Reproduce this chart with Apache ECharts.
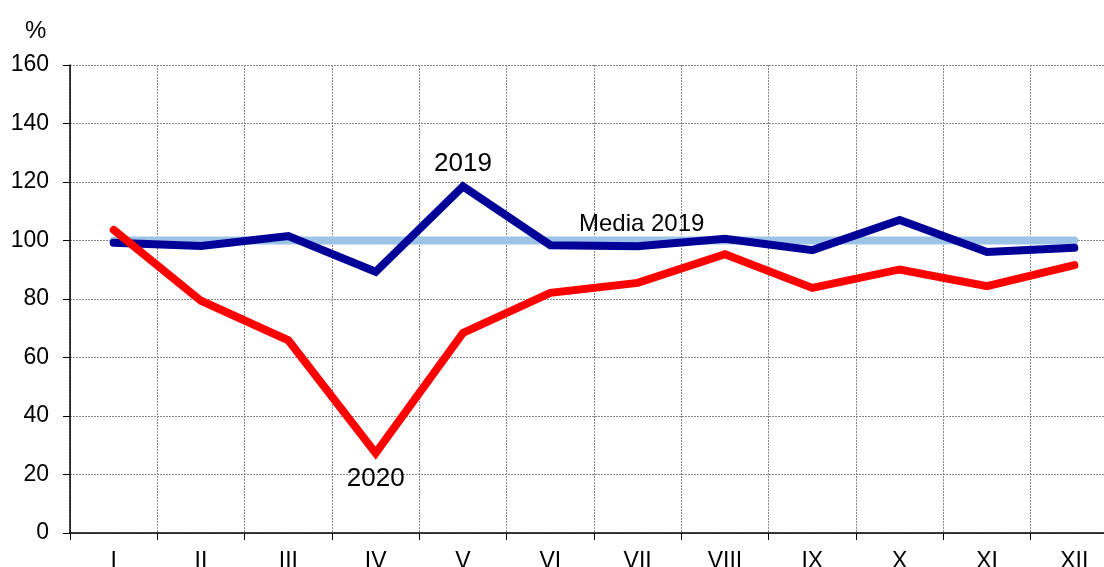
<!DOCTYPE html>
<html>
<head>
<meta charset="utf-8">
<script src="https://cdn.jsdelivr.net/npm/echarts@6/dist/echarts.min.js"></script>
<style>
  html, body { margin: 0; padding: 0; background: #fff; }
  #chart { width: 1104px; height: 567px; }
</style>
</head>
<body>
<div id="chart"></div>
<script>
// months, roman numerals
const months = ['I', 'II', 'III', 'IV', 'V', 'VI', 'VII', 'VIII', 'IX', 'X', 'XI', 'XII']
const values2019 = [99.2, 98.1, 101.5, 89.3, 118.5, 98.4, 98.0, 100.6, 96.7, 107.0, 96.1, 97.5]
const values2020 = [103.6, 79.4, 65.9, 27.3, 68.4, 82.1, 85.5, 95.3, 83.8, 90.1, 84.4, 91.6]
const media2019 = [100, 100, 100, 100, 100, 100, 100, 100, 100, 100, 100, 100]
const yTicks = [0, 20, 40, 60, 80, 100, 120, 140, 160]

const font = '"Liberation Sans", Arial, sans-serif'

// put a text label on one point only
function withLabel(values, idx, label) {
  return values.map((v, i) => i === idx ? { value: v, label: label } : v)
}

const chart = echarts.init(document.getElementById('chart'), null, { renderer: 'canvas' })

chart.setOption({
  animation: false,
  backgroundColor: '#fff',
  title: {
    text: '%',
    left: 20,
    top: 14,
    textStyle: { fontFamily: font, fontSize: 24, fontWeight: 'normal', color: '#000' }
  },
  grid: {
    left: 70,
    width: 1048,
    top: 65,
    bottom: 34,
    containLabel: false,
    outerBoundsMode: 'none'
  },
  xAxis: {
    type: 'category',
    data: months,
    boundaryGap: true,
    axisLine: { lineStyle: { color: '#000', width: 1.5 } },
    axisTick: { show: true, interval: 0, length: 7, lineStyle: { color: '#000' } },
    axisLabel: { interval: 0, margin: 17, color: '#000', fontFamily: font, fontSize: 23 },
    splitLine: { show: true, interval: 0, lineStyle: { color: '#888', type: [2, 1], width: 1 } }
  },
  yAxis: {
    type: 'value',
    min: yTicks[0],
    max: yTicks[yTicks.length - 1],
    interval: 20,
    axisLine: { show: true, lineStyle: { color: '#000', width: 1.5 } },
    axisTick: { show: true, length: 7, lineStyle: { color: '#000' } },
    axisLabel: { margin: 21, color: '#000', fontFamily: font, fontSize: 23 },
    splitLine: { show: true, lineStyle: { color: '#888', type: [2, 1], width: 1 } }
  },
  series: [
    {
      name: 'Media 2019',
      type: 'line',
      data: withLabel(media2019, 6, {
        show: true, position: 'top', distance: 4, formatter: 'Media 2019',
        color: '#000', fontFamily: font, fontSize: 24, offset: [4, 0]
      }),
      symbol: 'circle',
      symbolSize: 0,
      lineStyle: { color: '#9dc3e6', width: 8, cap: 'round' },
      z: 2
    },
    {
      name: '2019',
      type: 'line',
      data: withLabel(values2019, 4, {
        show: true, position: 'top', distance: 10, formatter: '2019',
        color: '#000', fontFamily: font, fontSize: 26
      }),
      symbol: 'circle',
      symbolSize: 0,
      lineStyle: { color: '#000099', width: 8, cap: 'round', join: 'miter' },
      z: 3
    },
    {
      name: '2020',
      type: 'line',
      data: withLabel(values2020, 3, {
        show: true, position: 'bottom', distance: 13, formatter: '2020',
        color: '#000', fontFamily: font, fontSize: 26
      }),
      symbol: 'circle',
      symbolSize: 0,
      lineStyle: { color: '#ff0000', width: 8, cap: 'round', join: 'miter' },
      z: 4
    }
  ]
})
</script>
</body>
</html>
